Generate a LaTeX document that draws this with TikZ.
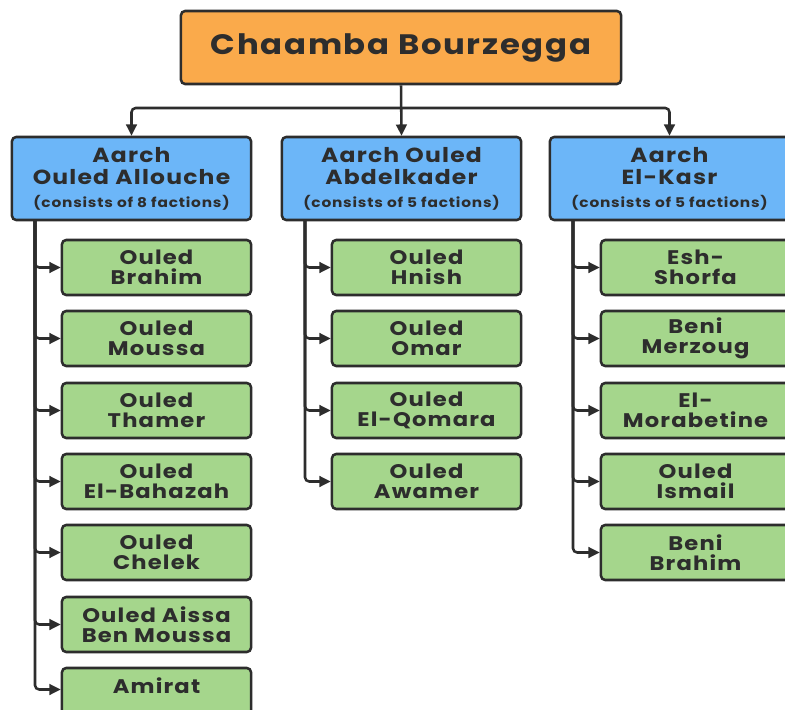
\documentclass[tikz,border=0pt]{standalone}
\usepackage{fontspec}
\setmainfont{Poppins}[FakeStretch=1.15, LetterSpace=6]
\usetikzlibrary{positioning,calc,arrows.meta}

\definecolor{rootorange}{RGB}{250,170,75}
\definecolor{aarchblue}{RGB}{108,182,248}
\definecolor{factgreen}{RGB}{165,214,140}
\definecolor{edgegray}{RGB}{45,45,45}

\newcommand{\factnote}[1]{{\fontsize{9.5}{11}\selectfont #1}}

\tikzset{
    rootbox/.style={draw=edgegray, line width=1.8pt, fill=rootorange, rounded corners=3pt,
        minimum width=11cm, minimum height=1.825cm, align=center,
        font=\fontsize{20}{22}\selectfont\bfseries, text=edgegray},
    aarchbox/.style={draw=edgegray, line width=1.8pt, fill=aarchblue, rounded corners=3pt,
        minimum width=5.975cm, minimum height=2.075cm, align=center,
        font=\fontsize{14.5}{16}\selectfont\bfseries, text=edgegray},
    factbox/.style={draw=edgegray, line width=1.8pt, fill=factgreen, rounded corners=3pt,
        minimum width=4.725cm, minimum height=1.375cm, align=center,
        font=\fontsize{14}{14.5}\selectfont\bfseries, text=edgegray},
    link/.style={draw=edgegray, line width=1.8pt, rounded corners=3pt,
        -{Triangle[length=8pt,width=7.5pt]}}
}

\begin{document}
\begin{tikzpicture}[x=0.025cm, y=-0.025cm]
    \clip (0,0) rectangle (785,710);
    \fill[white] (0,0) rectangle (785,710);

    % Top
    \node[rootbox] (root) at (401,47.5) {Chaamba Bourzegga};

    % Aarch boxes
    \node[aarchbox] (a1) at (131.5,178.5) {Aarch\\Ouled Allouche\\[0pt]\factnote{(consists of 8 factions)}};
    \node[aarchbox] (a2) at (401.5,178.5) {Aarch Ouled\\Abdelkader\\[0pt]\factnote{(consists of 5 factions)}};
    \node[aarchbox] (a3) at (669.5,178.5) {Aarch\\El-Kasr\\[0pt]\factnote{(consists of 5 factions)}};

    \coordinate (hub) at (401,108);
    \draw[link] (root.south) -- (a2.north);
    \draw[link] (hub) -| (a1.north);
    \draw[link] (hub) -| (a3.north);

    % Ouled Allouche factions
    \node[factbox] (f1a) at (156.5,267.5) {Ouled\\Brahim};
    \node[factbox] (f1b) at (156.5,338.5) {Ouled\\Moussa};
    \node[factbox] (f1c) at (156.5,410.5) {Ouled\\Thamer};
    \node[factbox] (f1d) at (156.5,481.5) {Ouled\\El-Bahazah};
    \node[factbox] (f1e) at (156.5,552.5) {Ouled\\Chelek};
    \node[factbox] (f1f) at (156.5,624.5) {Ouled Aissa\\Ben Moussa};
    \node[factbox] (f1g) at (156.5,695.5) {Amirat\\ };

    \coordinate (s1) at (35,220);
    \draw[link] (s1) |- (f1a.west);
    \draw[link] (s1) |- (f1b.west);
    \draw[link] (s1) |- (f1c.west);
    \draw[link] (s1) |- (f1d.west);
    \draw[link] (s1) |- (f1e.west);
    \draw[link] (s1) |- (f1f.west);
    \draw[link] (s1) |- ($(f1g.west)+(0,-6)$);

    % Ouled Abdelkader factions
    \node[factbox] (f2a) at (426.5,267.5) {Ouled\\Hnish};
    \node[factbox] (f2b) at (426.5,338.5) {Ouled\\Omar};
    \node[factbox] (f2c) at (426.5,410.5) {Ouled\\El-Qomara};
    \node[factbox] (f2d) at (426.5,481.5) {Ouled\\Awamer};

    \coordinate (s2) at (305,220);
    \draw[link] (s2) |- (f2a.west);
    \draw[link] (s2) |- (f2b.west);
    \draw[link] (s2) |- (f2c.west);
    \draw[link] (s2) |- (f2d.west);

    % El-Kasr factions
    \node[factbox] (f3a) at (695.5,267.5) {Esh-\\Shorfa};
    \node[factbox] (f3b) at (695.5,338.5) {Beni\\Merzoug};
    \node[factbox] (f3c) at (695.5,410.5) {El-\\Morabetine};
    \node[factbox] (f3d) at (695.5,481.5) {Ouled\\Ismail};
    \node[factbox] (f3e) at (695.5,552.5) {Beni\\Brahim};

    \coordinate (s3) at (573,220);
    \draw[link] (s3) |- (f3a.west);
    \draw[link] (s3) |- (f3b.west);
    \draw[link] (s3) |- (f3c.west);
    \draw[link] (s3) |- (f3d.west);
    \draw[link] (s3) |- (f3e.west);
\end{tikzpicture}
\end{document}
